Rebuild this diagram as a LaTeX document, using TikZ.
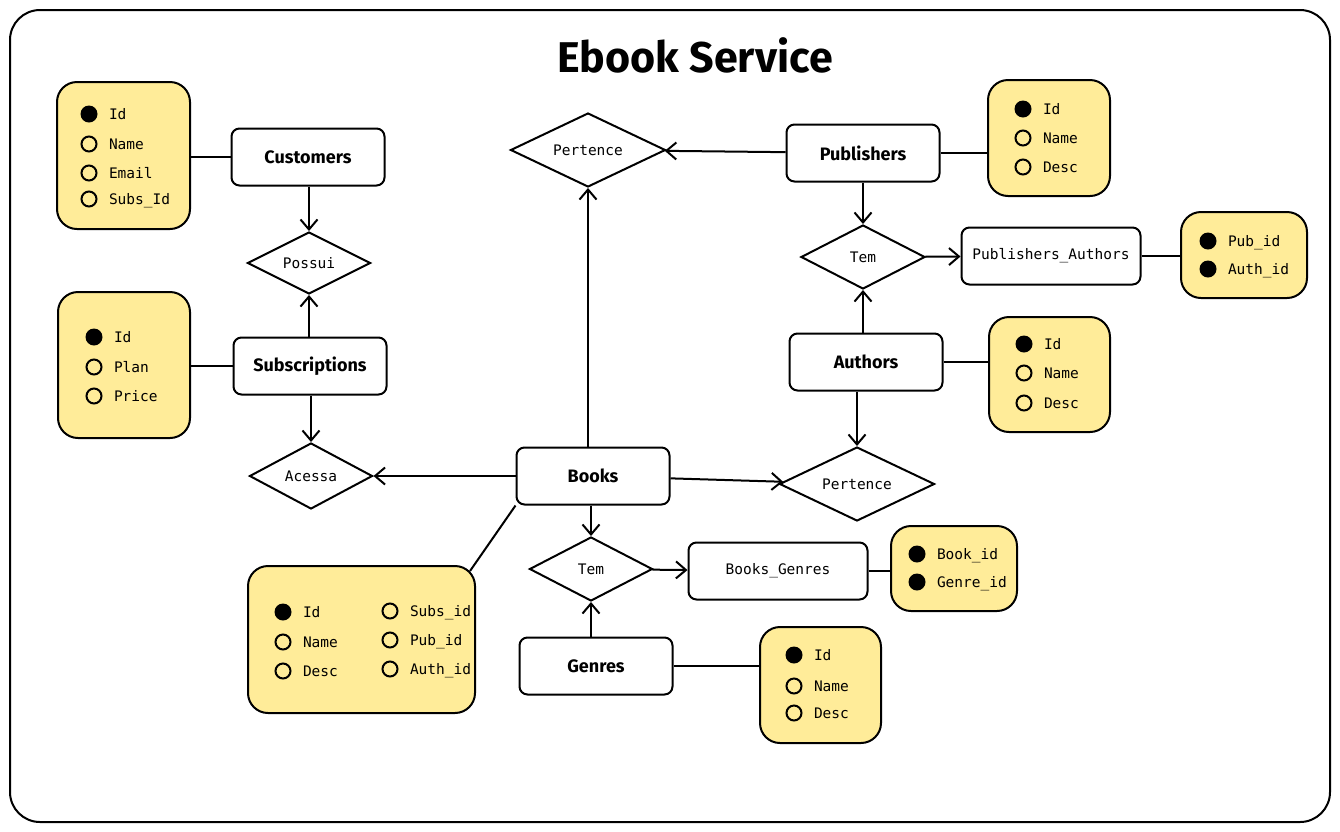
\documentclass[tikz,border=0pt]{standalone}
\usepackage{fontspec}
\newfontfamily\headfont{Fira Sans}
\newfontfamily\monofont{DejaVu Sans Mono}
\usetikzlibrary{shapes.geometric,arrows.meta}
\definecolor{attryellow}{HTML}{FFEC99}
\tikzset{
  entity/.style={draw,rectangle,rounded corners=8pt,fill=white,minimum width=153pt,minimum height=57pt,
    font=\headfont\bfseries\fontsize{18}{20}\selectfont},
  assoc/.style={draw,rectangle,rounded corners=8pt,fill=white,minimum width=179pt,minimum height=57pt,
    font=\monofont\fontsize{14.5}{16}\selectfont},
  relation/.style={draw,diamond,aspect=2,inner sep=0pt,fill=white,font=\monofont\fontsize{14.5}{16}\selectfont},
  attrbox/.style={draw,rectangle,rounded corners=20pt,fill=attryellow},
  attrtext/.style={right,inner sep=0pt,text height=11pt,text depth=0pt,font=\monofont\fontsize{14.5}{16}\selectfont}
}
\begin{document}
\begin{tikzpicture}[x=1pt,y=-1pt,>={Straight Barb[length=10pt,width=17pt]},line width=2pt]
\def\keyattr#1#2#3#4{\fill (#1,#2) circle[radius=8.5pt]; \node (#3) at ({#1+19},#2) [attrtext] {#4};}
\def\plainattr#1#2#3#4{\draw (#1,#2) circle[radius=7.5pt]; \node (#3) at ({#1+19},#2) [attrtext] {#4};}
\useasboundingbox (0,0) rectangle (1340,831);
\draw[rounded corners=30pt] (10,10) rectangle (1330,822);
\node (title) at (695,55) [font=\headfont\bfseries\fontsize{43}{48}\selectfont] {Ebook Service};
% entities
\node (cust) at (308,157) [entity] {Customers};
\node (subs) at (310,366) [entity] {Subscriptions};
\node (books) at (593,476) [entity] {Books};
\node (genres) at (596,666) [entity] {Genres};
\node (pubs) at (863,153) [entity] {Publishers};
\node (auths) at (866,362) [entity] {Authors};
\node (pubauth) at (1051,256) [assoc] {Publishers\_Authors};
\node (bookgen) at (778,571) [assoc] {Books\_Genres};
% relations
\node (possui) at (309,263) [relation,minimum width=123pt,minimum height=62pt] {Possui};
\node (pertA) at (588,150) [relation,minimum width=155pt,minimum height=74pt] {Pertence};
\node (temA) at (863,257) [relation,minimum width=124pt,minimum height=64pt] {Tem};
\node (acessa) at (311,476) [relation,minimum width=123pt,minimum height=66pt] {Acessa};
\node (pertB) at (857,484) [relation,minimum width=155pt,minimum height=74pt] {Pertence};
\node (temB) at (591,569) [relation,minimum width=123pt,minimum height=64pt] {Tem};
% attribute boxes
\node (custattr) at (123.5,155.5) [attrbox,minimum width=133pt,minimum height=147pt] {};
\node (subsattr) at (124,365) [attrbox,minimum width=132pt,minimum height=146pt] {};
\node (pubsattr) at (1049,138) [attrbox,minimum width=122pt,minimum height=116pt] {};
\node (paattr) at (1244,255) [attrbox,minimum width=126pt,minimum height=86pt] {};
\node (authsattr) at (1049.5,374.5) [attrbox,minimum width=121pt,minimum height=115pt] {};
\node (booksattr) at (361.5,639.5) [attrbox,minimum width=227pt,minimum height=147pt] {};
\node (bgattr) at (954,568.5) [attrbox,minimum width=126pt,minimum height=85pt] {};
\node (genattr) at (820.5,685) [attrbox,minimum width=121pt,minimum height=116pt] {};
% attributes
\keyattr{89}{114}{cuId}{Id}
\plainattr{89}{144}{cuName}{Name}
\plainattr{89}{173}{cuEmail}{Email}
\plainattr{89}{199}{cuSubs}{Subs\_Id}
\keyattr{94}{337}{suId}{Id}
\plainattr{94}{367}{suPlan}{Plan}
\plainattr{94}{396}{suPrice}{Price}
\keyattr{1023}{109}{puId}{Id}
\plainattr{1023}{138}{puName}{Name}
\plainattr{1023}{167}{puDesc}{Desc}
\keyattr{1208}{241}{paPub}{Pub\_id}
\keyattr{1208}{269}{paAuth}{Auth\_id}
\keyattr{1024}{344}{auId}{Id}
\plainattr{1024}{373}{auName}{Name}
\plainattr{1024}{403}{auDesc}{Desc}
\keyattr{283}{612}{boId}{Id}
\plainattr{283}{642}{boName}{Name}
\plainattr{283}{671}{boDesc}{Desc}
\plainattr{390}{611}{boSubs}{Subs\_id}
\plainattr{390}{640}{boPub}{Pub\_id}
\plainattr{390}{669}{boAuth}{Auth\_id}
\keyattr{917}{554}{bgBook}{Book\_id}
\keyattr{917}{582}{bgGenre}{Genre\_id}
\keyattr{794}{655}{geId}{Id}
\plainattr{794}{686}{geName}{Name}
\plainattr{794}{713}{geDesc}{Desc}
% connectors
\draw (cust.west) -- (cust.west -| custattr.east);
\draw (subs.west) -- (subs.west -| subsattr.east);
\draw (pubs.east) -- (pubs.east -| pubsattr.west);
\draw (auths.east) -- (auths.east -| authsattr.west);
\draw (pubauth.east) -- (pubauth.east -| paattr.west);
\draw (bookgen.east) -- (bookgen.east -| bgattr.west);
\draw (genres.east) -- (genres.east -| genattr.west);
\draw (books.south west) -- ([shift={(-6,6)}]booksattr.north east);
\draw[->] (cust.south -| possui.north) -- (possui.north);
\draw[->] (subs.north -| possui.south) -- (possui.south);
\draw[->] (subs.south -| acessa.north) -- (acessa.north);
\draw[->] (books) -- (acessa);
\draw[->] (books.north -| pertA.south) -- (pertA.south);
\draw[->] (pubs) -- (pertA);
\draw[->] (pubs.south -| temA.north) -- (temA.north);
\draw[->] (auths.north -| temA.south) -- (temA.south);
\draw[->] (temA) -- (pubauth);
\draw[->] (auths.south -| pertB.north) -- (pertB.north);
\draw[->] (books) -- (pertB);
\draw[->] (books.south -| temB.north) -- (temB.north);
\draw[->] (genres.north -| temB.south) -- (temB.south);
\draw[->] (temB) -- (bookgen);
\end{tikzpicture}
\end{document}
